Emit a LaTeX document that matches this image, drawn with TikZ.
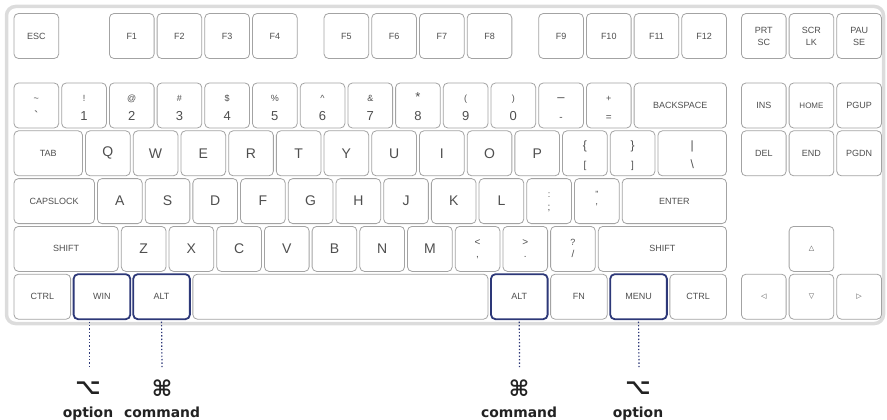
\documentclass[tikz,border=0pt]{standalone}
\usepackage{fontspec}
\setmainfont{Liberation Sans}
\newfontfamily\djv{DejaVu Sans}
\newfontfamily\djvb{DejaVu Sans Bold}
\definecolor{keyline}{HTML}{A3A3A3}
\definecolor{keytext}{HTML}{4F4F4F}
\definecolor{navy}{HTML}{2D3878}
\definecolor{framegray}{HTML}{DCDCDC}
\definecolor{labeltext}{HTML}{222222}
\newcommand\kbsize[1]{\fontsize{#1}{#1}\selectfont}
\tikzset{
  keybox/.style={draw=keyline, line width=0.8pt, rounded corners=4.5pt, fill=white,
    inner sep=0pt, minimum height=45, text=keytext, align=center,
    font=\fontsize{9}{12}\selectfont},
  hlkey/.style={draw=navy, line width=1.8pt},
  toplbl/.style={anchor=base, inner sep=0pt, text=keytext, font=\kbsize{9}},
  digitlbl/.style={anchor=base, inner sep=0pt, text=keytext, font=\kbsize{13}},
  punclbl/.style={anchor=base, inner sep=0pt, text=keytext, font=\kbsize{10}},
  dotline/.style={draw=navy, line width=1.2pt, dash pattern=on 1.4pt off 2pt},
  symb/.style={inner sep=0pt, text=labeltext, font=\djvb\kbsize{22}},
  capt/.style={anchor=base, inner sep=0pt, text=labeltext, font=\djvb\kbsize{13.9}},
  boardframe/.style={draw=framegray, line width=3.5pt, rounded corners=9pt, inner sep=0pt}
}
% key: [style] name, column, row top, width (units), label
\newcommand\kb[6][]{\node[keybox,#1, minimum width={#5*47.7-3}] (#2) at ({14+#3*47.7+(#5*47.7-3)/2},{#4+22.5}) {#6};}
\newcommand\kbl[4]{\kb{#1}{#2}{#3}{1}{\kbsize{14}#4}}
\newcommand\kbn[6]{\kb{#1}{#2}{#3}{#4}{}%
  \node[toplbl] at ([yshift=4pt]#1.center) {#5};%
  \node[digitlbl] at ([yshift=-14.8pt]#1.center) {#6};}
\newcommand\kbp[6]{\kb{#1}{#2}{#3}{#4}{}%
  \node[toplbl] at ([yshift=3.5pt]#1.center) {#5};%
  \node[punclbl] at ([yshift=-9pt]#1.center) {#6};}
\def\rF{13.5}
\def\rA{83}
\def\rB{130.8}
\def\rC{178.6}
\def\rD{226.4}
\def\rE{274.2}
\begin{document}
\begin{tikzpicture}[x=1pt,y=-1pt]
\useasboundingbox (0,0) rectangle (887,420);
\node[boardframe, minimum width=877, minimum height=317] (board) at (445,165) {};
% function row
\kb{kEsc}{0}{\rF}{1}{ESC}
\kb{kFa}{2}{\rF}{1}{F1}
\kb{kFb}{3}{\rF}{1}{F2}
\kb{kFc}{4}{\rF}{1}{F3}
\kb{kFd}{5}{\rF}{1}{F4}
\kb{kFe}{6.5}{\rF}{1}{F5}
\kb{kFf}{7.5}{\rF}{1}{F6}
\kb{kFg}{8.5}{\rF}{1}{F7}
\kb{kFh}{9.5}{\rF}{1}{F8}
\kb{kFi}{11}{\rF}{1}{F9}
\kb{kFj}{12}{\rF}{1}{F10}
\kb{kFk}{13}{\rF}{1}{F11}
\kb{kFl}{14}{\rF}{1}{F12}
\kb{kPrt}{15.25}{\rF}{1}{PRT\\SC}
\kb{kScr}{16.25}{\rF}{1}{SCR\\LK}
\kb{kPau}{17.25}{\rF}{1}{PAU\\SE}
% number row
\kbn{kTil}{0}{\rA}{1}{\textasciitilde}{\textasciigrave}
\kbn{kOne}{1}{\rA}{1}{!}{1}
\kbn{kTwo}{2}{\rA}{1}{@}{2}
\kbn{kThr}{3}{\rA}{1}{\#}{3}
\kbn{kFou}{4}{\rA}{1}{\$}{4}
\kbn{kFiv}{5}{\rA}{1}{\%}{5}
\kbn{kSix}{6}{\rA}{1}{\textasciicircum}{6}
\kbn{kSev}{7}{\rA}{1}{\&}{7}
\kbn{kEig}{8}{\rA}{1}{\kbsize{13}*}{8}
\kbn{kNin}{9}{\rA}{1}{(}{9}
\kbn{kZer}{10}{\rA}{1}{)}{0}
\kbn{kMin}{11}{\rA}{1}{\kbsize{13}–}{\kbsize{10}-}
\kbn{kEqu}{12}{\rA}{1}{+}{\kbsize{10}=}
\kb{kBsp}{13}{\rA}{2}{BACKSPACE}
\kb{kIns}{15.25}{\rA}{1}{INS}
\kb{kHom}{16.25}{\rA}{1}{\kbsize{8}HOME}
\kb{kPgu}{17.25}{\rA}{1}{PGUP}
% tab row
\kb{kTab}{0}{\rB}{1.5}{TAB}
\kbl{kQ}{1.5}{\rB}{Q}
\kbl{kW}{2.5}{\rB}{W}
\kbl{kE}{3.5}{\rB}{E}
\kbl{kR}{4.5}{\rB}{R}
\kbl{kT}{5.5}{\rB}{T}
\kbl{kY}{6.5}{\rB}{Y}
\kbl{kU}{7.5}{\rB}{U}
\kbl{kI}{8.5}{\rB}{I}
\kbl{kO}{9.5}{\rB}{O}
\kbl{kP}{10.5}{\rB}{P}
\kbn{kLbr}{11.5}{\rB}{1}{\kbsize{12}\{}{\kbsize{10}[}
\kbn{kRbr}{12.5}{\rB}{1}{\kbsize{12}\}}{\kbsize{10}]}
\kbn{kBsl}{13.5}{\rB}{1.5}{\kbsize{12}|}{\kbsize{12}\textbackslash}
\kb{kDel}{15.25}{\rB}{1}{DEL}
\kb{kEnd}{16.25}{\rB}{1}{END}
\kb{kPgd}{17.25}{\rB}{1}{PGDN}
% caps row
\kb{kCap}{0}{\rC}{1.75}{CAPSLOCK}
\kbl{kA}{1.75}{\rC}{A}
\kbl{kS}{2.75}{\rC}{S}
\kbl{kD}{3.75}{\rC}{D}
\kbl{kF}{4.75}{\rC}{F}
\kbl{kG}{5.75}{\rC}{G}
\kbl{kH}{6.75}{\rC}{H}
\kbl{kJ}{7.75}{\rC}{J}
\kbl{kK}{8.75}{\rC}{K}
\kbl{kL}{9.75}{\rC}{L}
\kbp{kSem}{10.75}{\rC}{1}{:}{;}
\kbp{kQuo}{11.75}{\rC}{1}{”}{’}
\kb{kEnt}{12.75}{\rC}{2.25}{ENTER}
% shift row
\kb{kLsh}{0}{\rD}{2.25}{SHIFT}
\kbl{kZ}{2.25}{\rD}{Z}
\kbl{kX}{3.25}{\rD}{X}
\kbl{kC}{4.25}{\rD}{C}
\kbl{kV}{5.25}{\rD}{V}
\kbl{kB}{6.25}{\rD}{B}
\kbl{kN}{7.25}{\rD}{N}
\kbl{kM}{8.25}{\rD}{M}
\kbp{kCom}{9.25}{\rD}{1}{\kbsize{10}<}{,}
\kbp{kDot}{10.25}{\rD}{1}{\kbsize{10}>}{.}
\kbp{kSla}{11.25}{\rD}{1}{?}{/}
\kb{kRsh}{12.25}{\rD}{2.75}{SHIFT}
\kb{kUp}{16.25}{\rD}{1}{\djv\kbsize{7}△}
% bottom row
\kb{kLct}{0}{\rE}{1.25}{CTRL}
\kb[hlkey]{kWin}{1.25}{\rE}{1.25}{WIN}
\kb[hlkey]{kLal}{2.5}{\rE}{1.25}{ALT}
\kb{kSpc}{3.75}{\rE}{6.25}{}
\kb[hlkey]{kRal}{10}{\rE}{1.25}{ALT}
\kb{kFn}{11.25}{\rE}{1.25}{FN}
\kb[hlkey]{kMen}{12.5}{\rE}{1.25}{MENU}
\kb{kRct}{13.75}{\rE}{1.25}{CTRL}
\kb{kLft}{15.25}{\rE}{1}{\djv\kbsize{7}◁}
\kb{kDwn}{16.25}{\rE}{1}{\djv\kbsize{7}▽}
\kb{kRgt}{17.25}{\rE}{1}{\djv\kbsize{7}▷}
% mac modifier labels
\coordinate (eWin) at (89.5,368);
\coordinate (eLal) at (162,368);
\coordinate (eRal) at (519.5,368);
\coordinate (eMen) at (639,368);
\draw[dotline] ([yshift=-1.5pt]kWin.south -| eWin) -- (eWin);
\draw[dotline] ([yshift=-1.5pt]kLal.south) -- (eLal);
\draw[dotline] ([yshift=-1.5pt]kRal.south) -- (eRal);
\draw[dotline] ([yshift=-1.5pt]kMen.south) -- (eMen);
\node[symb] (sWin) at (88,388) {⌥};
\node[symb] (sLal) at (162,388) {⌘};
\node[symb] (sRal) at (519,388) {⌘};
\node[symb] (sMen) at (638,388) {⌥};
\node[capt] (tWin) at (88,417) {option};
\node[capt] (tLal) at (162,417) {command};
\node[capt] (tRal) at (519,417) {command};
\node[capt] (tMen) at (638,417) {option};
\end{tikzpicture}
\end{document}
